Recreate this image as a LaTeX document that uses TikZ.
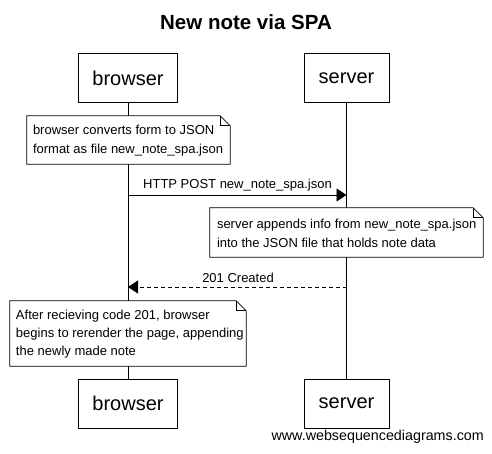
\documentclass[tikz,border=0pt]{standalone}
\usepackage{fontspec}
\setmainfont{Liberation Sans}
\usetikzlibrary{arrows.meta}
\newcommand\notefold[1]{%
  \draw[line width=0.8pt, fill=white] (#1.south west) -- (#1.south east) -- ([yshift=-10pt]#1.north east) -- ([xshift=-10pt]#1.north east) -- (#1.north west) -- cycle;
  \draw[line width=0.8pt] ([xshift=-10pt]#1.north east) -- ([xshift=-10pt,yshift=-10pt]#1.north east) -- ([yshift=-10pt]#1.north east);
}
\tikzset{
  actor/.style={draw, line width=0.8pt, fill=white, minimum height=49pt, inner sep=0pt, font=\fontsize{20}{24}\selectfont},
  noteframe/.style={inner sep=0pt},
  notetext/.style={inner sep=0pt, anchor=west, align=left, font=\fontsize{13}{19}\selectfont},
  lifeline/.style={line width=0.8pt},
  msg/.style={line width=0.8pt, -{Triangle[length=10pt,width=13pt]}},
  reply/.style={msg, dash pattern=on 4pt off 3pt},
  lbl/.style={font=\fontsize{13}{15}\selectfont, inner sep=0pt}
}
\begin{document}
\begin{tikzpicture}[x=1pt,y=-1pt]
\useasboundingbox (0,0) rectangle (492,453);
\node[font=\bfseries\fontsize{20.5}{24}\selectfont] (title) at (246,22) {New note via SPA};
\node[actor, minimum width=99pt] (bt) at (128,78) {browser};
\node[actor, minimum width=85pt] (st) at (346.5,78) {server};
\node[actor, minimum width=99pt] (bb) at (128,403.5) {browser};
\node[actor, minimum width=85pt] (sb) at (346.5,403.5) {server};
\draw[lifeline] (bt.south) -- (bb.north);
\draw[lifeline] (st.south) -- (sb.north);
% note 1
\node[noteframe, minimum width=203pt, minimum height=48pt] (n1) at (128.5,140) {};
\notefold{n1}
\node[notetext] (t1) at ([xshift=6pt,yshift=-1pt]n1.west) {browser converts form to JSON\\format as file new\_note\_spa.json};
% message 1
\coordinate (b1) at (128,195);
\coordinate (s1) at (346.5,195);
\draw[msg] (b1) -- (s1);
\node[lbl, anchor=south west] (l1) at (143,191) {HTTP POST new\_note\_spa.json};
% note 2
\node[noteframe, minimum width=273pt, minimum height=49pt] (n2) at (346.5,232.5) {};
\notefold{n2}
\node[notetext] (t2) at ([xshift=7pt,yshift=-1pt]n2.west) {server appends info from new\_note\_spa.json\\into the JSON file that holds note data};
% message 2
\coordinate (s2) at (346.5,287);
\coordinate (b2) at (128,287);
\draw[reply] (s2) -- (b2);
\node[lbl, anchor=south east] (l2) at (274,283) {201 Created};
% note 3
\node[noteframe, minimum width=236pt, minimum height=65pt] (n3) at (128,333.5) {};
\notefold{n3}
\node[notetext, font=\fontsize{13}{18}\selectfont] (t3) at ([xshift=6pt,yshift=-1pt]n3.west) {After recieving code 201, browser\\begins to rerender the page, appending\\the newly made note};
\node[font=\fontsize{14.3}{16}\selectfont, inner sep=0pt, anchor=east] (wm) at (484,437) {www.websequencediagrams.com};
\end{tikzpicture}
\end{document}
